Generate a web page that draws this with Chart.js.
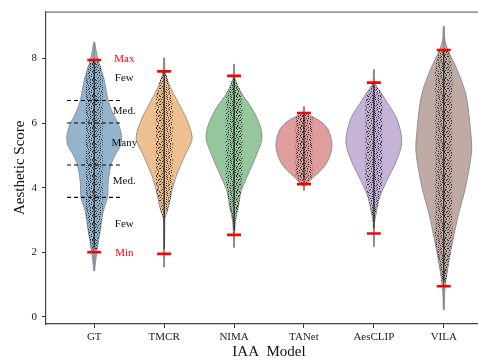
<!DOCTYPE html>
<html>
<head>
<meta charset="utf-8">
<script src="https://cdn.jsdelivr.net/npm/chart.js@4.4.1/dist/chart.umd.min.js"></script>
<style>
  html, body { margin: 0; padding: 0; overflow: hidden; background: #fff; }
</style>
</head>
<body>
<canvas id="myChart" width="492" height="360"></canvas>
<script>
var models = ["GT", "TMCR", "NIMA", "TANet", "AesCLIP", "VILA"];
var yTicks = [0, 2, 4, 6, 8];

// violin outlines: score levels (ascending) and half widths in category units
var gtY    = [1.42, 1.54, 2.05, 2.66, 3.27, 3.70, 4.19, 4.70, 5.01, 5.32, 5.62, 6.00, 6.28, 6.69, 7.36, 7.92, 8.20, 8.50];
var gtW    = [0.005, 0.01, 0.04, 0.085, 0.13, 0.19, 0.20, 0.24, 0.30, 0.38, 0.39, 0.34, 0.27, 0.20, 0.14, 0.06, 0.03, 0.005];
var tmcrY  = [1.54, 3.00, 3.12, 3.38, 3.89, 4.40, 5.01, 5.52, 6.13, 6.64, 7.15, 7.60, 8.02];
var tmcrW  = [0.005, 0.01, 0.02, 0.06, 0.11, 0.18, 0.30, 0.40, 0.32, 0.20, 0.08, 0.015, 0.005];
var nimaY  = [2.15, 2.60, 2.97, 3.38, 3.89, 4.40, 5.01, 5.52, 5.93, 6.44, 6.95, 7.41, 7.82];
var nimaW  = [0.005, 0.01, 0.02, 0.06, 0.10, 0.20, 0.32, 0.40, 0.37, 0.26, 0.10, 0.01, 0.005];
var tanetY = [3.91, 4.04, 4.14, 4.35, 4.60, 4.91, 5.26, 5.52, 5.82, 6.03, 6.20, 6.30, 6.51];
var tanetW = [0.005, 0.01, 0.05, 0.15, 0.27, 0.36, 0.40, 0.39, 0.34, 0.25, 0.12, 0.02, 0.005];
var aesY   = [2.17, 2.92, 3.17, 3.68, 4.19, 4.81, 5.42, 6.13, 6.64, 6.95, 7.20, 7.66];
var aesW   = [0.005, 0.01, 0.03, 0.08, 0.18, 0.32, 0.40, 0.33, 0.19, 0.10, 0.02, 0.005];
var vilaY  = [0.21, 0.60, 0.93, 1.54, 2.36, 3.17, 3.99, 4.81, 5.20, 5.62, 6.85, 7.66, 8.26, 8.60, 8.99];
var vilaW  = [0.005, 0.01, 0.02, 0.06, 0.13, 0.21, 0.31, 0.38, 0.40, 0.39, 0.32, 0.19, 0.06, 0.015, 0.005];

var maxScores = [7.95, 7.60, 7.46, 6.31, 7.25, 8.26];
var minScores = [2.00, 1.95, 2.54, 4.11, 2.58, 0.95];

// density bands marked on GT
var gtLevels = [6.7, 6.0, 4.7, 3.7];
var gtNotes = ["Max", "Few", "Med.", "Many", "Med.", "Few", "Min"];
var gtNoteY = [7.98, 7.38, 6.37, 5.37, 4.21, 2.87, 1.98];

var violinY = [gtY, tmcrY, nimaY, tanetY, aesY, vilaY];
var violinW = [gtW, tmcrW, nimaW, tanetW, aesW, vilaW];
var fills = ["rgb(148,180,206)", "rgb(238,192,143)", "rgb(150,198,155)",
             "rgb(223,157,157)", "rgb(197,180,216)", "rgb(192,170,165)"];

var jitter = 0.12;
var canvas = document.getElementById("myChart");
var ctx = canvas.getContext("2d");

// texture tile standing in for the strip of jittered points
var tile = [
  "#..+..#...+.#..+",
  "..#....#.+...#..",
  "+...#.+...#.....",
  ".#.....#.+..#.+#",
  "...+#.....#...#.",
  "#.....+.#..+....",
  "..#.#.....#..#.+",
  ".+....#.+...#...",
  "#..#.....#..+..#",
  "...+..#.#....#..",
  ".#.....+...#..+.",
  "...#.#...#....#.",
  "+.....#.+..#....",
  "..#.+....#...#+.",
  ".#....#.+....#..",
  "....#..+..#.#..#"
];
function dotPattern() {
  var t = document.createElement("canvas");
  t.width = 16; t.height = 16;
  var g = t.getContext("2d");
  tile.forEach(function(row, r) {
    row.split("").forEach(function(ch, k) {
      if (ch === ".") return;
      g.fillStyle = ch === "#" ? "rgba(0,0,0,0.8)" : "rgba(0,0,0,0.4)";
      g.fillRect(k, r, 1, 1);
    });
  });
  return ctx.createPattern(t, "repeat");
}
var dots = dotPattern();

function outline(c, ys, ws) {
  var right = ys.map(function(y, i){ return {x: c + ws[i], y: y}; });
  var left = ys.map(function(y, i){ return {x: c - ws[i], y: y}; }).reverse();
  return right.concat(left);
}

var datasets = [];
models.forEach(function(m, i) {
  var ys = violinY[i], ws = violinW[i];
  datasets.push({
    data: outline(i, ys, ws), fill: "shape", backgroundColor: fills[i],
    borderColor: "rgba(130,130,130,0.8)", borderWidth: 1, tension: 0.3, pointRadius: 0, order: 6
  });
  datasets.push({
    data: [{x: i, y: ys[0]}, {x: i, y: ys[ys.length - 1]}],
    borderColor: "rgba(135,135,135,0.9)", borderWidth: 1.6, pointRadius: 0, order: 5
  });
  var by = [], bw = [];
  ys.forEach(function(y, k) {
    if (y >= minScores[i] - 0.2 && y <= maxScores[i] + 0.1) { by.push(y); bw.push(Math.min(ws[k], jitter)); }
  });
  datasets.push({
    data: outline(i, by, bw), fill: "shape", backgroundColor: dots,
    borderWidth: 0, tension: 0.3, pointRadius: 0, order: 4
  });
  datasets.push({
    data: [{x: i, y: minScores[i] + 0.15}, {x: i, y: maxScores[i]}],
    borderColor: "rgba(0,0,0,0.75)", borderWidth: 1, pointRadius: 0, order: 3
  });
  [maxScores[i], minScores[i]].forEach(function(v) {
    datasets.push({
      data: [{x: i - 0.1, y: v}, {x: i + 0.1, y: v}],
      borderColor: "#ff0000", borderWidth: 2.6, pointRadius: 0, order: 1
    });
  });
});
gtLevels.forEach(function(v) {
  datasets.push({
    data: [{x: -0.39, y: v}, {x: 0.41, y: v}],
    borderColor: "#000", borderWidth: 1.1, borderDash: [4, 3], pointRadius: 0, order: 0
  });
});

var notesPlugin = {
  id: "notes",
  afterDatasetsDraw: function(chart) {
    var c = chart.ctx, xs = chart.scales.x, ysc = chart.scales.y;
    c.save();
    c.font = "11px 'Liberation Serif'";
    c.textAlign = "center";
    c.textBaseline = "middle";
    gtNotes.forEach(function(t, k) {
      c.fillStyle = (t === "Max" || t === "Min") ? "#ff0000" : "#111";
      c.fillText(t, xs.getPixelForValue(0.43), ysc.getPixelForValue(gtNoteY[k]));
    });
    var a = chart.chartArea;
    c.strokeStyle = "#555";
    c.lineWidth = 1;
    c.beginPath();
    c.moveTo(a.left, a.top + 0.5);
    c.lineTo(a.right, a.top + 0.5);
    c.stroke();
    c.restore();
  }
};

new Chart(canvas, {
  type: "scatter",
  data: { datasets: datasets },
  plugins: [notesPlugin],
  options: {
    responsive: false,
    animation: false,
    devicePixelRatio: 1,
    showLine: true,
    layout: { padding: { top: 8, right: 0, left: 0, bottom: 0 } },
    plugins: { legend: { display: false }, tooltip: { enabled: false } },
    scales: {
      x: {
        type: "linear", min: -0.69, max: 5.69,
        afterBuildTicks: function(scale) { scale.ticks = models.map(function(m, i){ return {value: i}; }); },
        afterFit: function(scale) { scale.height = 36; },
        ticks: {
          callback: function(v) { return models[v]; },
          font: { family: "'Liberation Serif'", size: 11 }, color: "#222", padding: 3, maxRotation: 0
        },
        grid: { drawOnChartArea: false, drawTicks: true, tickLength: 4, color: "#333" },
        border: { color: "#444", width: 1.2 },
        title: { display: true, text: "IAA  Model", color: "#111",
                 font: { family: "'Liberation Serif'", size: 15, lineHeight: 1 }, padding: { top: 0, bottom: 0.5 } }
      },
      y: {
        type: "linear", min: -0.22, max: 9.45,
        afterBuildTicks: function(scale) { scale.ticks = yTicks.map(function(v){ return {value: v}; }); },
        afterFit: function(scale) { scale.width = 46; },
        ticks: { font: { family: "'Liberation Serif'", size: 11 }, color: "#222", padding: 5 },
        grid: { drawOnChartArea: false, drawTicks: true, tickLength: 4, color: "#333" },
        border: { color: "#444", width: 1.2 },
        title: { display: true, text: "Aesthetic Score", color: "#111",
                 font: { family: "'Liberation Serif'", size: 15, lineHeight: 1 }, padding: { top: 12.5, bottom: 0 } }
      }
    }
  }
});
</script>
</body>
</html>
